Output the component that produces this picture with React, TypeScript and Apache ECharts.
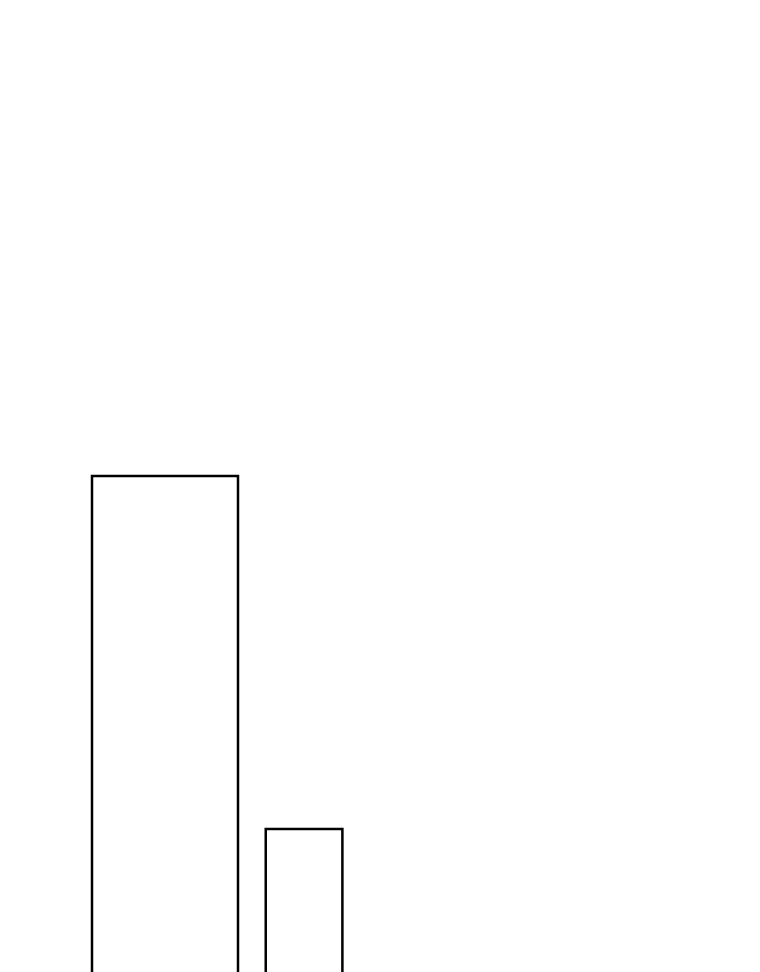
import {useEffect, useRef} from 'react';
import * as echarts from 'echarts';

// bar positions and heights, in axis units
const barStarts = [0, 23.8];
const barWidths = [20, 10.5];
const barValues = [60, 20];

const App = () => {
    const chartRef = useRef<HTMLDivElement>(null);

    useEffect(() => {
        if (!chartRef.current) return;
        const chart = echarts.init(chartRef.current, undefined, {renderer: 'svg'});
        const data = barValues.map((v, i) => [barStarts[i], barStarts[i] + barWidths[i], v]);
        chart.setOption({
            animation: false,
            grid: {left: 84, right: 76, top: 115, bottom: 2.5},
            xAxis: {type: 'value', min: 0, max: 80, show: false},
            yAxis: {type: 'value', min: 0, max: 100, show: false},
            series: [
                {
                    type: 'custom',
                    clip: false,
                    data,
                    renderItem: (params: any, api: any) => {
                        const topLeft = api.coord([api.value(0), api.value(2)]);
                        const bottomRight = api.coord([api.value(1), 0]);
                        return {
                            type: 'rect',
                            shape: {
                                x: topLeft[0],
                                y: topLeft[1],
                                width: bottomRight[0] - topLeft[0],
                                height: bottomRight[1] - topLeft[1],
                            },
                            style: {fill: '#fff', stroke: '#000', lineWidth: 2.5},
                        };
                    },
                },
            ],
        });

        return () => {
            chart.dispose();
        };
    }, []);

    // the bars run on past the bottom of the window, so the chart is cut off there
    return (
        <div style={{position: 'fixed', left: 0, top: 0, width: 760, height: 972, overflow: 'hidden'}}>
            <div ref={chartRef} style={{position: 'absolute', left: 8, top: 8, width: 744, height: 1000}} />
        </div>
    );
};

export default App;
